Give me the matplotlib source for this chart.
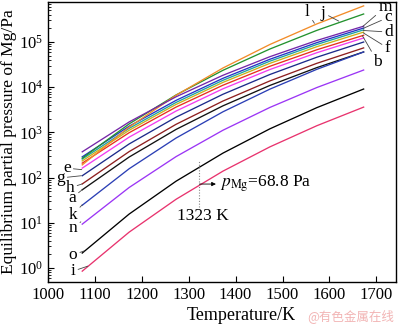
import matplotlib
matplotlib.use("Agg")
import matplotlib.pyplot as plt
from matplotlib.ticker import LogLocator, NullFormatter

plt.rcParams['font.family'] = ['Liberation Serif', 'DejaVu Serif']
plt.rcParams['mathtext.fontset'] = 'stix'

# Temperatures (K)
temps = [1073, 1173, 1273, 1373, 1473, 1573, 1673]

# Equilibrium partial pressure of Mg (Pa) for each system a-o
p_a = [53.7, 285, 1164, 3873, 10940, 27100, 60300]
p_b = [209, 984, 3631, 11070, 29040, 67300, 141000]
p_c = [288, 1371, 5117, 15740, 41500, 96800, 204000]
p_d = [257, 1230, 4603, 14220, 37670, 88100, 186000]
p_e = [162, 785, 2965, 9226, 24600, 57900, 123000]
p_f = [234, 1114, 4159, 12790, 33730, 78700, 166000]
p_g = [110, 555, 2173, 6982, 19100, 46000, 100000]
p_h = [72.4, 376, 1510, 4943, 13770, 33730, 74100]
p_i = [0.851, 6.21, 33.1, 139, 478, 1403, 3631]
p_j = [269, 1542, 6730, 23660, 69980, 180700, 417000]
p_k = [24.5, 157, 750, 2858, 9057, 24830, 60300]
p_l = [191, 1309, 6637, 26610, 88100, 251000, 631000]
p_m = [372, 1702, 6138, 18370, 47320, 108100, 224000]
p_n = [9.33, 60.4, 291, 1117, 3565, 9817, 23990]
p_o = [2.14, 15.6, 83.2, 348, 1199, 3524, 9120]

series = {
    'a': (p_a, '#111111'), 'b': (p_b, '#e8301c'), 'c': (p_c, '#2433c8'),
    'd': (p_d, '#1fa3a3'), 'e': (p_e, '#f23cf0'), 'f': (p_f, '#c9b21a'),
    'g': (p_g, '#1c2a8a'), 'h': (p_h, '#8e1f1f'), 'i': (p_i, '#e8336e'),
    'j': (p_j, '#23922e'), 'k': (p_k, '#2b3fb5'), 'l': (p_l, '#f28c28'),
    'm': (p_m, '#7526a8'), 'n': (p_n, '#9b35f5'), 'o': (p_o, '#000000'),
}

fig = plt.figure(figsize=(4.0, 3.26), dpi=100)
ax = fig.add_axes([0.12, 0.135, 0.87, 0.859])

for name, (vals, col) in series.items():
    ax.plot(temps, vals, color=col, lw=0.95)

ax.set_yscale('log')
ax.set_xlim(1000, 1742)
ax.set_ylim(0.49, 7.7e5)
ax.set_xticks([1000, 1100, 1200, 1300, 1400, 1500, 1600, 1700])
ax.yaxis.set_major_locator(LogLocator(base=10, numticks=10))
ax.yaxis.set_minor_locator(LogLocator(base=10, subs=range(2, 10), numticks=10))
ax.yaxis.set_minor_formatter(NullFormatter())
ax.tick_params(axis='both', which='major', direction='in', length=4, width=0.8,
               labelsize=12, top=False, right=False)
ax.tick_params(axis='y', which='minor', direction='in', length=2.2, width=0.6, right=False)
ax.tick_params(axis='x', which='minor', bottom=False)
for s in ax.spines.values():
    s.set_linewidth(1.0)

fig.text(0.603, 0.031, 'Temperature/K', fontsize=13, ha='center', va='center')
ax.set_ylabel('Equilibrium partial pressure of Mg/Pa', fontsize=12.5, labelpad=1)

lk = dict(arrowstyle='-', lw=0.6, color='#444444', shrinkA=0, shrinkB=0)
fs = 12.5
# right-side labels: (label, text T, text p, target T, target p)
right_labels = [
    ('l', 1553, 4.6e5, 1568, 2.6e5),
    ('j', 1587, 4.4e5, 1620, 2.9e5),
    ('m', 1719, 5.9e5, 1671, 2.2e5),
    ('c', 1725, 3.5e5, 1672, 2.0e5),
    ('d', 1727, 1.66e5, 1672, 1.8e5),
    ('f', 1724, 7.4e4, 1672, 1.6e5),
    ('b', 1703, 3.6e4, 1670, 1.4e5),
]
for lab, tx, ty, px, py in right_labels:
    ax.annotate(lab, xy=(px, py), xytext=(tx, ty), fontsize=fs,
                ha='center', va='center', arrowprops=lk)

left_labels = [
    ('e', 1040, 162, 1072, 150),
    ('g', 1026, 98, 1071, 110),
    ('h', 1047, 59, 1072, 72),
    ('a', 1051, 35, 1073, 54),
    ('k', 1053, 15, 1073, 25),
    ('n', 1053, 7.6, 1070, 10.5),
    ('o', 1053, 1.95, 1078, 2.4),
    ('i', 1053, 0.85, 1085, 1.1),
]
for lab, tx, ty, px, py in left_labels:
    ax.annotate(lab, xy=(px, py), xytext=(tx, ty), fontsize=fs,
                ha='center', va='center', arrowprops=lk)

# 1323 K annotation
ax.plot([1323, 1323], [22, 230], ls=(0, (1, 1.5)), color='#888888', lw=0.8)
ax.text(1330, 14, '1323 K', fontsize=12.5, ha='center', va='center')
ax.annotate('', xy=(1358, 72), xytext=(1323, 72),
            arrowprops=dict(arrowstyle='-|>', lw=0.6, color='black',
                            mutation_scale=6, shrinkA=0, shrinkB=0))
ax.text(1366, 72, r'$p_{\rm Mg}$=68.8 Pa', fontsize=12.5, ha='left', va='center')

fig.text(0.985, 0.031, '@有色金属在线', fontsize=9, color='#f2b4b4',
         ha='right', va='center', family=['Noto Sans CJK SC', 'DejaVu Sans'])

fig.savefig('out.png', dpi=100)
